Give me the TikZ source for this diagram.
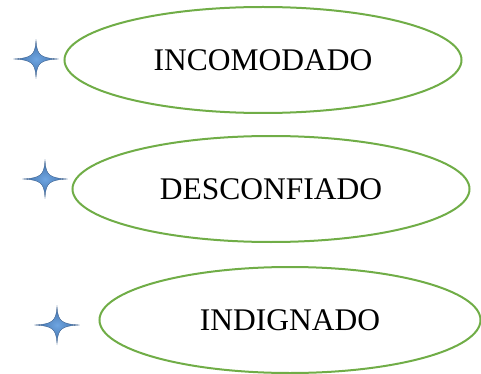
\documentclass[tikz,border=0pt]{standalone}
\usepackage{fontspec}
\setmainfont{Liberation Serif}
\usepackage{tikz}
\usetikzlibrary{shapes.geometric}
\definecolor{leafgreen}{RGB}{112,173,71}
\definecolor{starblue}{RGB}{62,108,165}
\definecolor{starlight}{RGB}{110,165,225}
\definecolor{stardark}{RGB}{50,85,130}
\tikzset{
	mood/.style={ellipse,draw=leafgreen,line width=2pt,minimum width=397pt,minimum height=106pt,inner sep=0pt,font=\fontsize{31.5}{36}\selectfont},
	sparkle/.pic={
		\shade[inner color=starlight,outer color=starblue,draw=stardark,line width=0.3pt]
			(22.5,0) .. controls (4,-1) and (1,-4) .. (0,-18.5) .. controls (-1,-4) and (-4,-1) .. (-22.5,0)
			.. controls (-4,1) and (-1,4) .. (0,18.5) .. controls (1,4) and (4,1) .. cycle;
	}
}
\begin{document}
\begin{tikzpicture}[x=1pt,y=-1pt]
	\useasboundingbox (0,0) rectangle (481,374);
	\node[mood] (incomodado) at (263,60) {INCOMODADO};
	\node[mood] (desconfiado) at (271,189) {DESCONFIADO};
	\node[mood,minimum width=381pt] (indignado) at (290,320) {INDIGNADO};
	\pic at (36,59) {sparkle};
	\pic at (45,179) {sparkle};
	\pic at (57,325) {sparkle};
\end{tikzpicture}
\end{document}
